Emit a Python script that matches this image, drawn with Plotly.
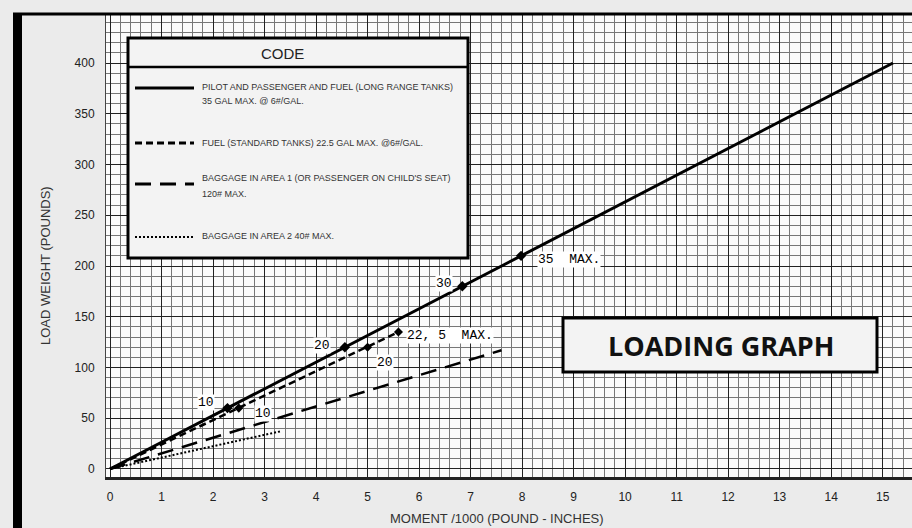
import plotly.graph_objects as go

# ---------------- data ----------------
# Pilot and passenger and fuel (long range tanks)
long_range_x = [0, 15.2]
long_range_y = [0, 400]
long_range_mark_x = [2.28, 4.56, 6.84, 7.98]
long_range_mark_y = [60, 120, 180, 210]
long_range_labels = ["10", "20", "30", "35  MAX."]

# Fuel (standard tanks)
std_fuel_x = [0, 5.6]
std_fuel_y = [0, 135]
std_fuel_mark_x = [2.5, 5.0, 5.6]
std_fuel_mark_y = [60, 120, 135]
std_fuel_labels = ["10", "20", "22, 5  MAX."]

# Baggage in area 1
bag1_x = [0, 7.6]
bag1_y = [0, 117]

# Baggage in area 2
bag2_x = [0, 3.3]
bag2_y = [0, 37]

x_ticks = list(range(0, 16))
y_ticks = list(range(0, 401, 50))

legend_texts = [
    ["PILOT AND PASSENGER AND FUEL (LONG RANGE TANKS)", "35 GAL MAX. @ 6#/GAL."],
    ["FUEL (STANDARD TANKS) 22.5 GAL MAX. @6#/GAL."],
    ["BAGGAGE IN AREA 1 (OR PASSENGER ON CHILD'S SEAT)", "120# MAX."],
    ["BAGGAGE IN AREA 2 40# MAX."],
]

# ---------------- layout helpers ----------------
L, R, T, B = 106, 912, 14, 477
W, H = R - L, B - T


def px(x):
    return (x - L) / W


def py(y):
    return (B - y) / H


fig = go.Figure()

line_specs = [
    (long_range_x, long_range_y, "solid", 3),
    (std_fuel_x, std_fuel_y, "7px,4px", 2.5),
    (bag1_x, bag1_y, "16px,9px", 2.5),
    (bag2_x, bag2_y, "2px,2px", 2),
]
for xs, ys, dash, w in line_specs:
    fig.add_trace(go.Scatter(x=xs, y=ys, mode="lines",
                             line=dict(color="black", width=w, dash=dash),
                             hoverinfo="skip", showlegend=False))

fig.add_trace(go.Scatter(x=long_range_mark_x, y=long_range_mark_y, mode="markers",
                         marker=dict(symbol="diamond", size=8, color="black"),
                         showlegend=False))
fig.add_trace(go.Scatter(x=std_fuel_mark_x, y=std_fuel_mark_y, mode="markers",
                         marker=dict(symbol="diamond", size=7, color="black"),
                         showlegend=False))

mono = dict(family="Liberation Mono", size=13, color="black")
lr_off = [(-0.42, 6), (-0.45, 2), (-0.35, 3), (0.3, -4)]
for x, y, t, (dx, dy) in zip(long_range_mark_x, long_range_mark_y, long_range_labels, lr_off):
    fig.add_annotation(x=x + dx, y=y + dy, text=t, showarrow=False, font=mono,
                       xanchor="left" if "MAX" in t else "center", yanchor="middle",
                       bgcolor="white", borderpad=0)
sf_off = [(0.47, -5), (0.34, -15), (0.15, -3)]
for x, y, t, (dx, dy) in zip(std_fuel_mark_x, std_fuel_mark_y, std_fuel_labels, sf_off):
    fig.add_annotation(x=x + dx, y=y + dy, text=t, showarrow=False, font=mono,
                       xanchor="left" if "MAX" in t else "center", yanchor="middle",
                       bgcolor="white", borderpad=0)

shapes = []
shapes.append(dict(type="rect", xref="paper", yref="paper", x0=px(13), x1=px(22),
                   y0=py(528), y1=py(13), fillcolor="black", line=dict(width=0)))
shapes.append(dict(type="line", xref="paper", yref="paper", x0=px(13), x1=px(912),
                   y0=py(14), y1=py(14), line=dict(color="black", width=3)))

# CODE box
shapes.append(dict(type="rect", xref="paper", yref="paper", x0=px(128), x1=px(468),
                   y0=py(258), y1=py(38), fillcolor="#f3f3f3",
                   line=dict(color="black", width=3)))
shapes.append(dict(type="line", xref="paper", yref="paper", x0=px(128), x1=px(468),
                   y0=py(67), y1=py(67), line=dict(color="black", width=2.5)))
leg_rows = [88, 143, 184, 237]
leg_dash = ["solid", "7px,4px", "16px,9px", "2px,2px"]
leg_w = [3, 3, 3, 2]
for yy, d, w in zip(leg_rows, leg_dash, leg_w):
    shapes.append(dict(type="line", xref="paper", yref="paper", x0=px(135), x1=px(194),
                       y0=py(yy), y1=py(yy), line=dict(color="black", width=w, dash=d)))

# LOADING GRAPH box
shapes.append(dict(type="rect", xref="paper", yref="paper", x0=px(563), x1=px(877),
                   y0=py(372), y1=py(318), fillcolor="#f3f3f3",
                   line=dict(color="black", width=3)))

fig.update_layout(shapes=shapes)

narrow = "Liberation Sans Narrow, Liberation Sans, Arial"


def paper_text(x, y, text, font, xanchor="center", angle=0):
    fig.add_annotation(xref="paper", yref="paper", x=px(x), y=py(y), text=text,
                       showarrow=False, xanchor=xanchor, yanchor="middle",
                       textangle=angle, font=font)


paper_text(282, 53, "CODE", dict(family=narrow, size=15, color="#222"))
text_rows = [[87, 101], [143], [178, 194], [236]]
for lines, ys in zip(legend_texts, text_rows):
    for t, yy in zip(lines, ys):
        paper_text(200, yy, t, dict(family=narrow, size=9, color="#333"), xanchor="left")

paper_text(721, 345, "<b>LOADING GRAPH</b>",
           dict(family="Open Sans, Liberation Sans", size=27, color="#111"))
paper_text(45, 265, "LOAD WEIGHT (POUNDS)", dict(family=narrow, size=13, color="#333"),
           angle=-90)
paper_text(497, 518, "MOMENT /1000 (POUND - INCHES)",
           dict(family=narrow, size=13, color="#333"))

tickfont = dict(family="Liberation Sans", size=12, color="#222")
fig.update_xaxes(range=[-0.078, 15.57], tickvals=x_ticks,
                 ticktext=[str(v) for v in x_ticks], tickfont=tickfont,
                 showgrid=True, gridcolor="#222", gridwidth=1.4,
                 minor=dict(dtick=0.2, tick0=0, showgrid=True, gridcolor="#777", gridwidth=1),
                 zeroline=False, showline=True, linecolor="#222", linewidth=3,
                 ticks="", ticklabelstandoff=7, fixedrange=True, automargin=False)
fig.update_yaxes(range=[-7.9, 448.3], tickvals=y_ticks,
                 ticktext=[str(v) for v in y_ticks], tickfont=tickfont,
                 showgrid=True, gridcolor="#222", gridwidth=1.4,
                 minor=dict(dtick=10, tick0=0, showgrid=True, gridcolor="#777", gridwidth=1),
                 zeroline=False, showline=True, linecolor="#444", linewidth=1,
                 ticks="", ticklabelstandoff=8, fixedrange=True, automargin=False)

fig.update_layout(width=912, height=528,
                  margin=dict(l=L, r=912 - R, t=T, b=528 - B, pad=0),
                  paper_bgcolor="#ebebeb", plot_bgcolor="#fbfbfb",
                  showlegend=False)

fig.write_html("out.html", config={"displayModeBar": False},
               post_script="document.body.style.margin='0';document.body.style.background='#ebebeb';")
